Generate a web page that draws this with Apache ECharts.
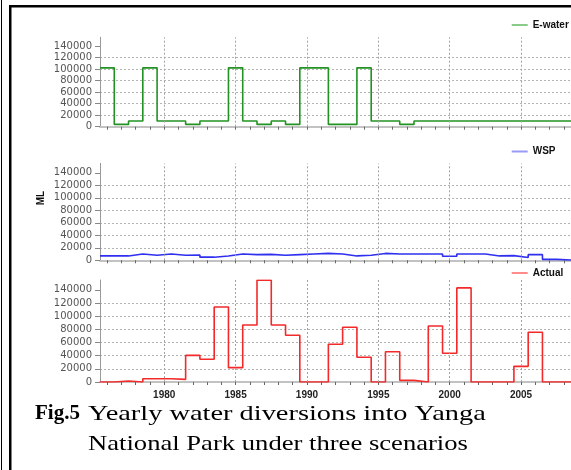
<!DOCTYPE html>
<html>
<head>
<meta charset="utf-8">
<script src="https://cdn.jsdelivr.net/npm/echarts@6/dist/echarts.min.js"></script>
<style>
  html, body { margin: 0; padding: 0; background: #fff; }
  #chart { width: 571px; height: 470px; }
</style>
</head>
<body>
<div id="chart"></div>
<script>
// ---- data ----
const years = [1976,1977,1978,1979,1980,1981,1982,1983,1984,1985,1986,1987,1988,1989,1990,1991,1992,1993,1994,1995,1996,1997,1998,1999,2000,2001,2002,2003,2004,2005,2006,2007,2008];
const eWater = [102000,4000,10000,102000,10000,10000,4000,10000,10000,102000,10000,4000,10000,4000,102000,102000,4000,4000,102000,10000,10000,4000,10000,10000,10000,10000,10000,10000,10000,10000,10000,10000,10000];
const wsp = [7000,7000,10000,8000,10000,8000,8500,5000,7000,10000,9000,9500,8000,9000,10000,11000,10000,7000,8000,11000,10000,10000,10000,10000,6500,10000,10000,7000,7500,4500,9000,1500,500];
const actual = [0,1500,0,5000,5000,4000,40500,34500,114000,21800,86700,154600,86700,71000,0,0,57300,83100,37500,0,46000,2500,0,85000,43600,143000,0,0,0,23800,75500,0,0];
const seriesNames = ['E-water','WSP','Actual'];
const xLabelYears = [1980,1985,1990,1995,2000,2005];
const yTicks = [0,20000,40000,60000,80000,100000,120000,140000];
const yAxisName = 'ML';
const captionBold = 'Fig.5';
const captionLine1 = 'Yearly water diversions into Yanga';
const captionLine2 = 'National Park under three scenarios';

// ---- styles ----
const lineColors = ['#229322','#2f2ff0','#f22a2a'];
const legendColors = ['#8acb8a','#9a9af6','#ff8c8c'];
const grids = [
  {top: 37.3, height: 89.4, legendTop: 20},
  {top: 163.4, height: 96.9, legendTop: 146.5},
  {top: 280, height: 102, legendTop: 268}
];
const seriesData = [eWater, wsp, actual];

function stepPoints(vals){
  const pts = years.map((y,i)=>[y-0.5, vals[i]]);
  pts.push([years[years.length-1]+0.5, vals[vals.length-1]]);
  return pts;
}

const chart = echarts.init(document.getElementById('chart'), null, {renderer:'canvas'});
const option = {
  backgroundColor: '#fff',
  animation: false,
  grid: grids.map(g => ({left: 100, top: g.top, width: 481.8, height: g.height})),
  legend: grids.map((g,i) => ({
    left: 511.7, top: g.legendTop, padding: 0,
    icon: 'rect', itemWidth: 16, itemHeight: 2,
    data: [{name: seriesNames[i], itemStyle: {color: legendColors[i]}}],
    textStyle: {fontWeight: 'bold', fontSize: 10, fontFamily: 'Liberation Sans, Arial', color: '#111'},
    selectedMode: false
  })),
  xAxis: grids.map((g,i) => ({
    type: 'value', gridIndex: i, min: 1975.5, max: 2008.5,
    axisLine: {show: true, lineStyle: {color: '#c2c2c2', width: 2}},
    axisTick: {show: true, customValues: years, length: 3, lineStyle: {color: '#666', width: 1}},
    axisLabel: {show: i === 2, customValues: xLabelYears, formatter: v => String(v),
                fontWeight: 'bold', fontSize: 10,
                fontFamily: 'Liberation Sans, Arial', color: '#222', margin: 8},
    splitLine: {show: false}
  })),
  yAxis: grids.map((g,i) => ({
    type: 'value', gridIndex: i, min: 0, max: 155000, interval: 20000,
    axisLine: {show: true, lineStyle: {color: '#999', width: 1}},
    axisTick: {show: true, length: 5, customValues: yTicks, lineStyle: {color: '#888'}},
    axisLabel: {customValues: yTicks, formatter: v => String(v), fontSize: 10, fontFamily: 'DejaVu Sans',
                color: '#555', margin: 8},
    splitLine: {show: true, showMaxLine: false, lineStyle: {type: [2,2], color: '#b4b4b4', width: 1}}
  })),
  series: [
    ...grids.map((g,i) => ({
      type: 'line', name: '', xAxisIndex: i, yAxisIndex: i, data: [], z: 1, silent: true,
      markLine: {silent: true, symbol: ['none','none'], label: {show: false},
                 lineStyle: {type: [2,2], color: '#a2a2a2', width: 1},
                 data: xLabelYears.map(y => ({xAxis: y}))}
    })),
    ...seriesNames.map((n,i) => ({
      type: 'line', name: n, xAxisIndex: i, yAxisIndex: i, step: 'end',
      showSymbol: false, symbol: 'none',
      lineStyle: {color: lineColors[i], width: 1.6},
      itemStyle: {color: lineColors[i]},
      data: stepPoints(seriesData[i]), z: 3
    }))
  ],
  graphic: [
    {type: 'rect', shape: {x: 1, y: 0, width: 1, height: 470}, style: {fill: '#000'}},
    {type: 'rect', shape: {x: 9, y: 5, width: 2.5, height: 465}, style: {fill: '#000'}},
    {type: 'rect', shape: {x: 9, y: 5, width: 562, height: 2.5}, style: {fill: '#000'}},
    {type: 'text', x: 41, y: 198, rotation: Math.PI/2,
     style: {text: yAxisName, font: 'bold 10px "Liberation Sans", Arial', fill: '#111', align: 'center', verticalAlign: 'middle'}},
    {type: 'text', x: 35, y: 414,
     style: {text: captionBold, font: 'bold 21px "Liberation Serif", "Times New Roman"', fill: '#000', align: 'left', verticalAlign: 'middle'}},
    {type: 'text', x: 88, y: 414, scaleX: 1.29,
     style: {text: captionLine1, font: '22px "Liberation Serif", "Times New Roman"', fill: '#000', align: 'left', verticalAlign: 'middle'}},
    {type: 'text', x: 88, y: 444, scaleX: 1.21,
     style: {text: captionLine2, font: '22px "Liberation Serif", "Times New Roman"', fill: '#000', align: 'left', verticalAlign: 'middle'}}
  ]
};
chart.setOption(option);
</script>
</body>
</html>
